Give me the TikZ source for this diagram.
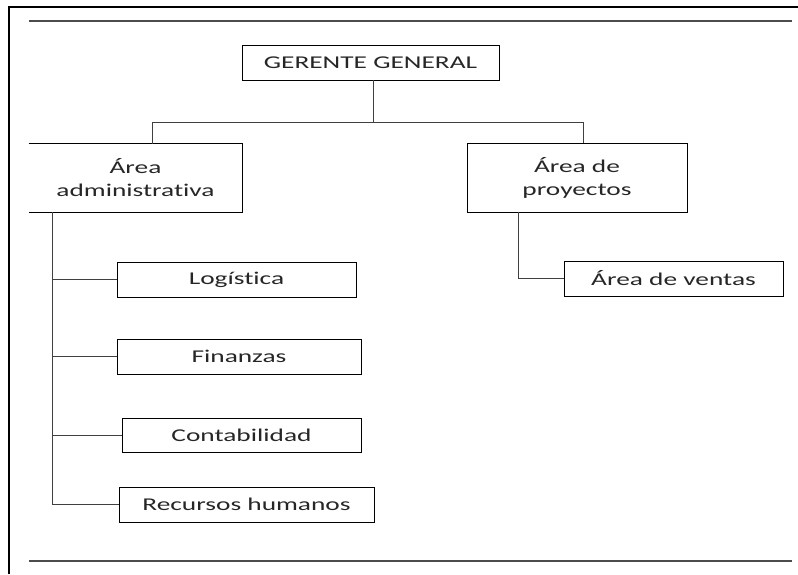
\documentclass[tikz,border=0pt]{standalone}
\usepackage{fontspec}
\setmainfont{Carlito}[FakeStretch=1.52, Ligatures=NoCommon]
\begin{document}
\begin{tikzpicture}[x=1pt,y=-1pt,
  box/.style={draw=black, line width=0.8pt, inner sep=0pt, align=center,
    text=black!85, font=\fontsize{18}{23}\selectfont},
  openbox/.style={box, draw=none},
  link/.style={draw=black!75, line width=1pt},
  rule/.style={draw=black!70, line width=1.3pt},
  frame/.style={draw=black, line width=2pt}]
\useasboundingbox (0,0) rectangle (798,574);

% page frame and rules
\draw[frame] (798,7) -- (9,7) -- (9,574);
\draw[rule] (29,21) -- (792,21);
\draw[rule] (29,561) -- (792,561);

% boxes
\node[box, minimum width=257pt, minimum height=35pt] (gg) at (370.5,62.5) {GERENTE GENERAL};
\node[openbox, minimum width=213pt, minimum height=68pt] (adm) at (135.5,178) {Área\\administrativa};
\draw[line width=0.8pt] (adm.north west) -- (adm.north east) -- (adm.south east) -- (adm.south west);
\node[box, minimum width=220pt, minimum height=69pt] (proy) at (577,177.5) {Área de\\proyectos};
\node[box, minimum width=219pt, minimum height=35pt] (ven) at (673.5,278.5) {Área de ventas};
\node[box, minimum width=239pt, minimum height=35pt] (log) at (236.5,279.5) {Logística};
\node[box, minimum width=244pt, minimum height=35pt] (fin) at (239,356.5) {Finanzas};
\node[box, minimum width=239pt, minimum height=34pt] (con) at (241.5,435) {Contabilidad};
\node[box, minimum width=255pt, minimum height=35pt] (rh) at (246.5,504.5) {Recursos humanos};

% top level bus
\coordinate (j) at (373,122);
\coordinate (ja) at (152,122);
\coordinate (jp) at (583,122);
\draw[link] (gg.south -| j) -- (j);
\draw[link] (ja |- adm.north) -- (ja) -- (jp) -- (jp |- proy.north);

% administrative branch
\coordinate (lt) at (52,0);
\draw[link] (adm.south -| lt) -- (rh.west -| lt) -- (rh.west);
\draw[link] (log.west -| lt) -- (log.west);
\draw[link] (fin.west -| lt) -- (fin.west);
\draw[link] (con.west -| lt) -- (con.west);

% projects branch
\coordinate (rt) at (518,0);
\draw[link] (proy.south -| rt) -- (ven.west -| rt) -- (ven.west);
\end{tikzpicture}
\end{document}
